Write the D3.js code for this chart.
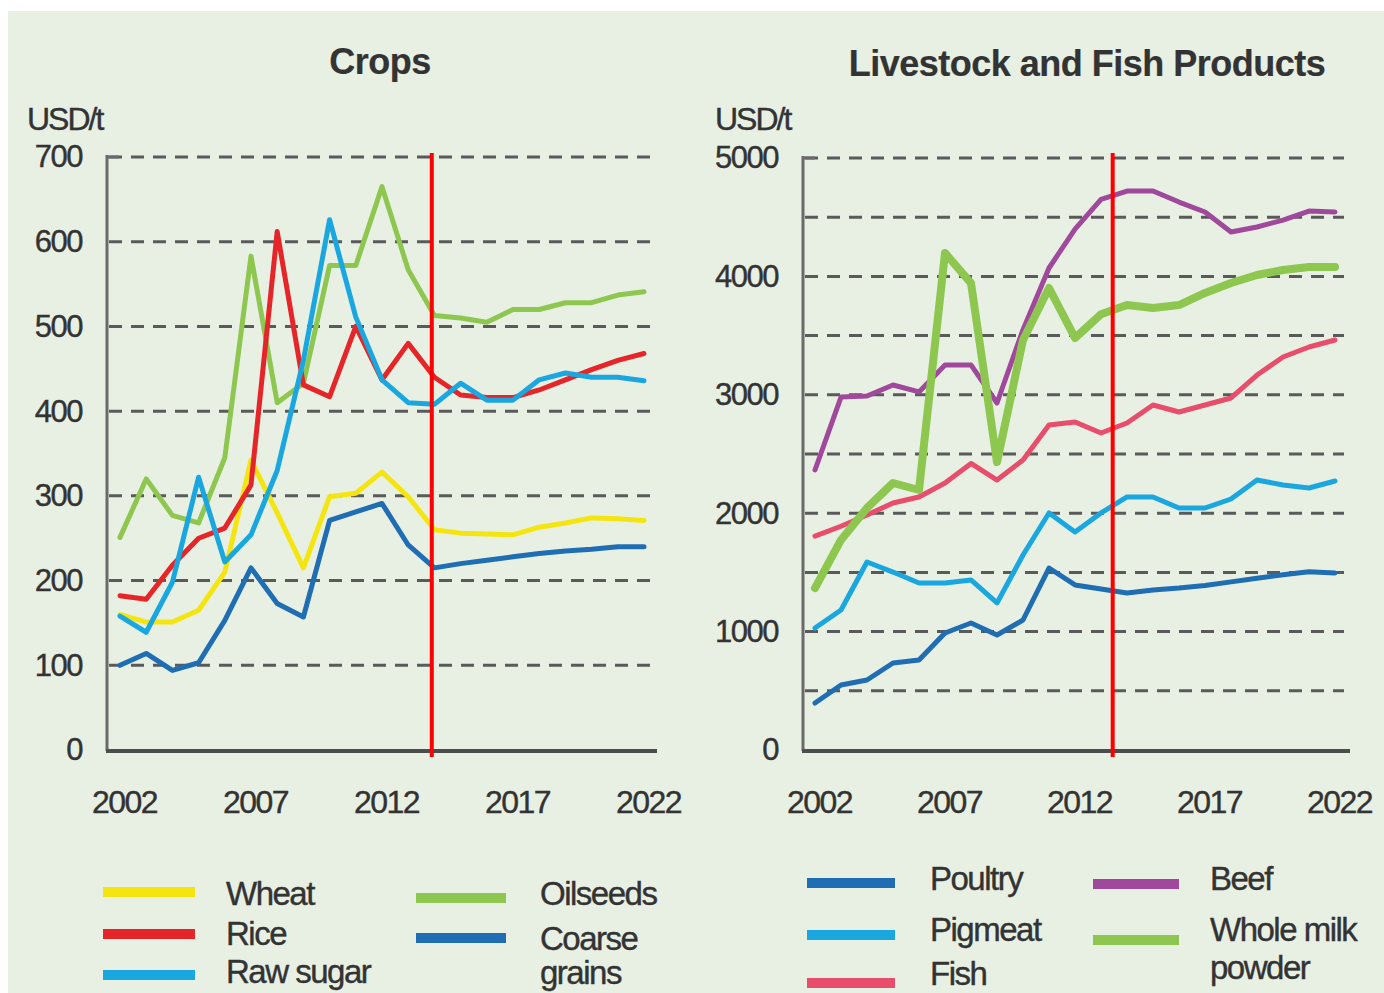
<!DOCTYPE html>
<html>
<head>
<meta charset="utf-8">
<script src="https://cdn.jsdelivr.net/npm/d3@7"></script>
<style>
  body { margin: 0; background: #fff; }
  svg text { font-family: "Liberation Sans", Arial, sans-serif; fill: #333; stroke: #333; stroke-width: 0.4px; }
</style>
</head>
<body>
<svg id="chart" width="1384" height="993"></svg>
<script>
// years shared by both panels
const years = d3.range(2002, 2023);

// Crops, USD/t
const wheat      = [160, 151, 151, 165, 210, 342, 280, 215, 299, 303, 328, 299, 260, 256, 255, 254, 263, 268, 274, 273, 271];
const rice       = [182, 178, 218, 250, 262, 313, 612, 431, 417, 500, 437, 480, 440, 419, 416, 416, 425, 437, 449, 460, 468];
const rawSugar   = [158, 139, 198, 322, 222, 254, 330, 460, 626, 511, 437, 410, 408, 433, 413, 413, 437, 445, 440, 440, 436];
const oilseeds   = [251, 320, 277, 268, 345, 583, 410, 433, 572, 572, 665, 567, 513, 510, 505, 520, 520, 528, 528, 537, 541];
const coarse     = [100, 114,  94, 103, 153, 215, 173, 157, 271, 281, 291, 242, 215, 220, 224, 228, 232, 235, 237, 240, 240];

// Livestock and fish products, USD/t
const poultry    = [397, 549, 591, 735, 760, 988, 1073, 971, 1098, 1537, 1394, 1360, 1326, 1351, 1368, 1390, 1420, 1450, 1480, 1505, 1495];
const pigmeat    = [1030, 1182, 1588, 1503, 1410, 1410, 1436, 1242, 1647, 2002, 1841, 2002, 2137, 2137, 2044, 2044, 2120, 2280, 2238, 2213, 2272];
const fish       = [1807, 1890, 1985, 2086, 2137, 2255, 2420, 2280, 2450, 2745, 2770, 2677, 2762, 2914, 2855, 2914, 2973, 3167, 3319, 3404, 3463];
const beef       = [2365, 2981, 2990, 3083, 3024, 3252, 3252, 2931, 3550, 4071, 4400, 4650, 4721, 4721, 4628, 4544, 4375, 4417, 4476, 4552, 4544];
const milkPowder = [1368, 1774, 2044, 2255, 2196, 4198, 3944, 2432, 3463, 3902, 3480, 3680, 3758, 3733, 3758, 3860, 3944, 4012, 4054, 4079, 4079];

const cropTicks = [0, 100, 200, 300, 400, 500, 600, 700];
const livestockTicks = [0, 1000, 2000, 3000, 4000, 5000];
const livestockGrid = d3.range(500, 5001, 500);
const xTickYears = [2002, 2007, 2012, 2017, 2022];

// year where the projection period starts (red marker)
const cropsProjection = 2013.9;
const livestockProjection = 2013.45;

const svg = d3.select("#chart");

// light green panel
svg.append("rect").attr("x", 8).attr("y", 11).attr("width", 1376).attr("height", 982).attr("fill", "#e8f0e4");

function drawPanel(cfg) {
  const x = d3.scaleLinear().domain([2002, 2022]).range([cfg.x0, cfg.x1]);
  const y = d3.scaleLinear().domain([0, cfg.yMax]).range([750, cfg.yTop]);
  const g = svg.append("g");

  g.append("text")
    .attr("x", cfg.titleX).attr("y", cfg.titleY)
    .attr("text-anchor", "middle")
    .style("font-size", "36px").style("font-weight", "bold").style("letter-spacing", "-0.5px")
    .style("stroke-width", "0.2px")
    .text(cfg.title);

  g.append("text")
    .attr("x", cfg.unitX).attr("y", 130)
    .style("font-size", "32px").style("letter-spacing", "-2px")
    .text("USD/t");

  // dashed gridlines
  g.selectAll(".grid")
    .data(cfg.grid)
    .enter().append("line")
    .attr("x1", cfg.axisX + 2).attr("x2", cfg.gridEnd)
    .attr("y1", d => y(d)).attr("y2", d => y(d))
    .attr("stroke", "#5a5a5a").attr("stroke-width", 3)
    .attr("stroke-dasharray", "13,9");

  // y axis
  const yAxis = g.append("g")
    .attr("transform", "translate(" + cfg.axisX + ",0)")
    .call(d3.axisLeft(y).tickValues(cfg.ticks).tickSize(0).tickPadding(25).tickFormat(d3.format("d")));
  yAxis.select(".domain").remove();
  yAxis.selectAll("text").style("font-size", "31px").style("letter-spacing", "-1.5px").attr("fill", "#333");
  g.append("line")
    .attr("x1", cfg.axisX).attr("x2", cfg.axisX)
    .attr("y1", y(cfg.yMax) - 2).attr("y2", 751)
    .attr("stroke", "#6a6a6a").attr("stroke-width", 3);
  g.append("line")
    .attr("x1", cfg.axisX).attr("x2", cfg.axisX + 12)
    .attr("y1", y(cfg.yMax)).attr("y2", y(cfg.yMax))
    .attr("stroke", "#6a6a6a").attr("stroke-width", 3);

  // x axis
  const xAxis = g.append("g")
    .attr("transform", "translate(0,750)")
    .call(d3.axisBottom(x).tickValues(xTickYears).tickSize(0).tickPadding(40).tickFormat(d3.format("d")));
  xAxis.select(".domain").remove();
  xAxis.selectAll("text").style("font-size", "32px").style("letter-spacing", "-1.5px").attr("fill", "#333")
    .attr("dx", 4);
  g.append("line")
    .attr("x1", cfg.axisX - 1).attr("x2", cfg.axisEnd)
    .attr("y1", 751).attr("y2", 751)
    .attr("stroke", "#4d4d4d").attr("stroke-width", 4);

  const line = d3.line().x((d, i) => x(years[i])).y(d => y(d));
  cfg.series.forEach(s => {
    g.append("path")
      .datum(s.values)
      .attr("d", line)
      .attr("fill", "none")
      .attr("stroke", s.color)
      .attr("stroke-width", s.width)
      .attr("stroke-linejoin", "round")
      .attr("stroke-linecap", "round");
  });

  // projection marker
  g.append("line")
    .attr("x1", x(cfg.projection)).attr("x2", x(cfg.projection))
    .attr("y1", 153).attr("y2", 757)
    .attr("stroke", "#ff0000").attr("stroke-width", 4);

  // legend
  cfg.legend.forEach(l => {
    g.append("line")
      .attr("x1", l.lx).attr("x2", l.lx + l.len)
      .attr("y1", l.ly).attr("y2", l.ly)
      .attr("stroke", l.color).attr("stroke-width", 10);
    l.label.forEach((t, k) => {
      g.append("text")
        .attr("x", l.tx).attr("y", l.ty[k])
        .style("font-size", "33px").style("letter-spacing", "-1.5px")
        .text(t);
    });
  });
}

const C = {
  yellow: "#f4e511", red: "#e52528", cyan: "#1aa7e0", green: "#8dc74f",
  navy: "#1f6db3", purple: "#a0489b", pink: "#e84d6b"
};

drawPanel({
  title: "Crops", titleX: 380, titleY: 74, unitX: 27,
  x0: 120, x1: 644, axisX: 107, axisEnd: 657, gridEnd: 652,
  yMax: 700, yTop: 157, ticks: cropTicks, grid: cropTicks.slice(1),
  projection: cropsProjection,
  series: [
    { values: coarse, color: C.navy, width: 5 },
    { values: wheat, color: C.yellow, width: 5 },
    { values: oilseeds, color: C.green, width: 5 },
    { values: rice, color: C.red, width: 5 },
    { values: rawSugar, color: C.cyan, width: 5 }
  ],
  legend: [
    { color: C.yellow, lx: 103, ly: 892, len: 92, label: ["Wheat"], tx: 226, ty: [905] },
    { color: C.red, lx: 103, ly: 934, len: 92, label: ["Rice"], tx: 226, ty: [945] },
    { color: C.cyan, lx: 103, ly: 975, len: 92, label: ["Raw sugar"], tx: 226, ty: [983] },
    { color: C.green, lx: 416, ly: 898, len: 90, label: ["Oilseeds"], tx: 540, ty: [905] },
    { color: C.navy, lx: 416, ly: 938, len: 90, label: ["Coarse", "grains"], tx: 540, ty: [950, 984] }
  ]
});

drawPanel({
  title: "Livestock and Fish Products", titleX: 1087, titleY: 76, unitX: 715,
  x0: 815, x1: 1335, axisX: 803, axisEnd: 1350, gridEnd: 1344,
  yMax: 5000, yTop: 158, ticks: livestockTicks, grid: livestockGrid,
  projection: livestockProjection,
  series: [
    { values: poultry, color: C.navy, width: 5 },
    { values: pigmeat, color: C.cyan, width: 5 },
    { values: fish, color: C.pink, width: 5 },
    { values: beef, color: C.purple, width: 5 },
    { values: milkPowder, color: C.green, width: 8 }
  ],
  legend: [
    { color: C.navy, lx: 807, ly: 883, len: 88, label: ["Poultry"], tx: 930, ty: [890] },
    { color: C.cyan, lx: 807, ly: 935, len: 88, label: ["Pigmeat"], tx: 930, ty: [941] },
    { color: C.pink, lx: 807, ly: 983, len: 88, label: ["Fish"], tx: 930, ty: [985] },
    { color: C.purple, lx: 1093, ly: 884, len: 86, label: ["Beef"], tx: 1210, ty: [890] },
    { color: C.green, lx: 1093, ly: 940, len: 86, label: ["Whole milk", "powder"], tx: 1210, ty: [941, 979] }
  ]
});
</script>
</body>
</html>
